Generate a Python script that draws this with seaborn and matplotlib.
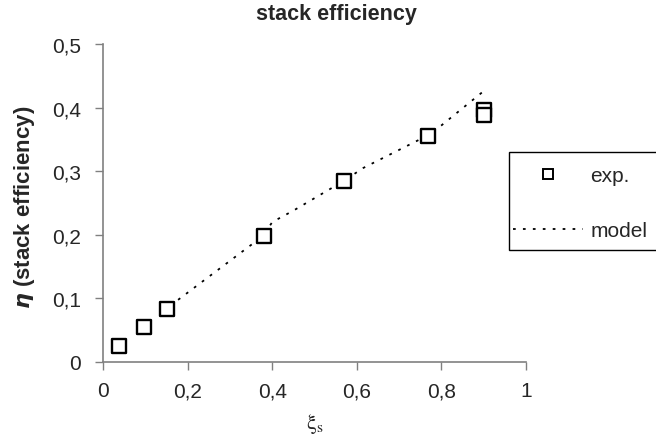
import matplotlib
matplotlib.use("Agg")
import matplotlib.pyplot as plt
import seaborn as sns
import pandas as pd
from matplotlib.lines import Line2D
from matplotlib.patches import Rectangle

exp_x = [0.038, 0.097, 0.151, 0.380, 0.569, 0.768, 0.900, 0.900]
exp_y = [0.025, 0.055, 0.083, 0.198, 0.285, 0.356, 0.396, 0.388]
model_x = [0.14, 0.38, 0.40, 0.45, 0.57, 0.615, 0.77, 0.80, 0.90]
model_y = [0.079, 0.199, 0.220, 0.238, 0.285, 0.305, 0.357, 0.372, 0.426]
x_ticks = [0, 0.2, 0.4, 0.6, 0.8, 1.0]
x_labels = ["0", "0,2", "0,4", "0,6", "0,8", "1"]
y_ticks = [0, 0.1, 0.2, 0.3, 0.4, 0.5]
y_labels = ["0", "0,1", "0,2", "0,3", "0,4", "0,5"]

sns.set_style("white")
plt.rcParams['font.family'] = ['Liberation Sans', 'DejaVu Sans']

W, H = 656, 439
fig = plt.figure(figsize=(6.56, 4.39), dpi=100)
ax = fig.add_axes([103 / W, 1 - 363 / H, 423 / W, 318 / H])

df_exp = pd.DataFrame({"x": exp_x, "y": exp_y})
df_mod = pd.DataFrame({"x": model_x, "y": model_y})

dots = (0, (1.5, 4))
sns.lineplot(data=df_mod, x="x", y="y", ax=ax, color="black", lw=1.3,
             linestyle=dots, sort=False, estimator=None)
sns.scatterplot(data=df_exp, x="x", y="y", ax=ax, marker="s", s=95,
                facecolor="white", edgecolor="black", linewidth=1.7, zorder=3)

ax.set_xlim(0, 1)
ax.set_ylim(0, 0.5)
ax.set_xticks(x_ticks)
ax.set_xticklabels(x_labels, fontsize=15)
ax.set_yticks(y_ticks)
ax.set_yticklabels(y_labels, fontsize=15)
ax.tick_params(axis="x", direction="out", length=6, width=1, color="#808080",
               pad=8, bottom=True)
ax.tick_params(axis="y", direction="out", length=6, width=1, color="#808080",
               pad=10, left=True)
for s in ["top", "right"]:
    ax.spines[s].set_visible(False)
for s in ["left", "bottom"]:
    ax.spines[s].set_color("#808080")
    ax.spines[s].set_linewidth(1.2)

ax.set_ylabel(r"$\boldsymbol{\eta}$ (stack efficiency)", fontsize=16, fontweight="bold")
ax.yaxis.set_label_coords(-0.155, 0.49)
ax.set_xlabel(r"$\mathrm{\xi_s}$", fontsize=16, math_fontfamily="stix")
ax.xaxis.set_label_coords(0.5, -0.155)
ax.set_title("stack efficiency", fontsize=15.5, fontweight="bold",
             x=0.551, y=1.053, va="baseline")

# legend frame (extends past the right edge like the reference)
fig.patches.append(Rectangle((509 / W, 1 - 251 / H), 200 / W, 98 / H,
                             transform=fig.transFigure, facecolor="white",
                             edgecolor="black", lw=1.0, zorder=1))
handles = [Line2D([], [], marker="s", color="black", markerfacecolor="white",
                  markersize=7.5, markeredgewidth=1.4, linestyle="none"),
           Line2D([], [], color="black", lw=1.3, linestyle=dots)]
leg = fig.legend(handles, ["exp.", "model"], loc="upper left",
                 bbox_to_anchor=(513 / W, 1 - 167 / H), fontsize=15,
                 frameon=False, handlelength=3.37, labelspacing=1.75,
                 borderpad=0, handletextpad=0.35, borderaxespad=0)
leg.set_zorder(2)

fig.savefig("out.png", dpi=100)
